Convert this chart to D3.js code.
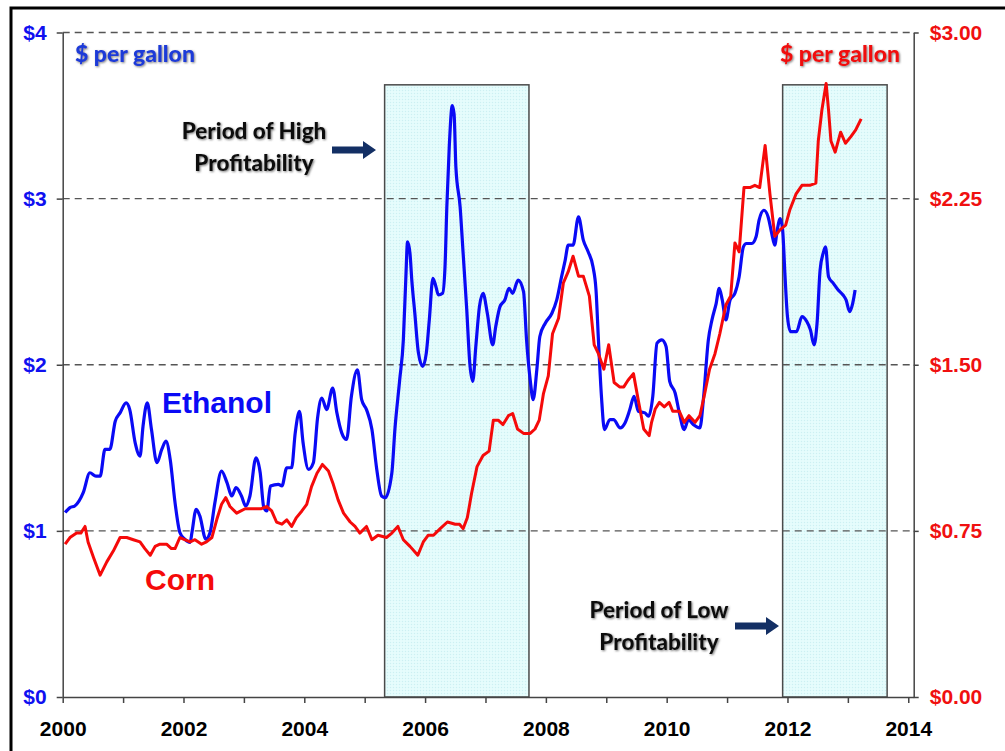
<!DOCTYPE html>
<meta charset="utf-8">
<style>
body { margin: 0; background: #fff; }
svg { display: block; }
.axis text { font-family: "Liberation Sans", Arial, sans-serif; font-weight: bold; }
.note { font-family: Lato, "Open Sans", sans-serif; font-weight: 900; }
</style>
<body>
<script src="https://cdn.jsdelivr.net/npm/d3@7"></script>
<script>

// ethanol price, $ per gallon (left axis) - [year, value]
var ethanol = [
  [2000.04,1.11],[2000.12,1.14],[2000.2,1.15],[2000.34,1.23],[2000.45,1.35],[2000.55,1.33],[2000.62,1.33],
  [2000.7,1.49],[2000.78,1.49],[2000.87,1.66],[2000.95,1.71],[2001.05,1.77],[2001.11,1.73],[2001.2,1.53],
  [2001.28,1.45],[2001.33,1.63],[2001.4,1.77],[2001.47,1.61],[2001.56,1.41],[2001.64,1.49],[2001.71,1.54],
  [2001.78,1.43],[2001.86,1.17],[2001.94,0.99],[2002.02,0.95],[2002.11,0.93],[2002.14,0.99],[2002.21,1.13],
  [2002.27,1.09],[2002.37,0.95],[2002.44,0.99],[2002.52,1.17],[2002.63,1.36],[2002.72,1.29],[2002.8,1.21],
  [2002.87,1.26],[2002.96,1.21],[2003.03,1.15],[2003.1,1.21],[2003.2,1.44],[2003.27,1.35],[2003.33,1.14],
  [2003.38,1.12],[2003.44,1.27],[2003.57,1.28],[2003.63,1.27],[2003.71,1.38],[2003.79,1.38],[2003.85,1.59],
  [2003.92,1.72],[2003.98,1.53],[2004.07,1.37],[2004.15,1.41],[2004.22,1.68],[2004.29,1.8],[2004.37,1.73],
  [2004.47,1.86],[2004.54,1.71],[2004.62,1.59],[2004.7,1.55],[2004.78,1.81],[2004.88,1.97],[2004.95,1.79],
  [2005.03,1.73],[2005.12,1.61],[2005.2,1.37],[2005.28,1.21],[2005.34,1.2],[2005.45,1.35],[2005.5,1.61],
  [2005.58,1.91],[2005.64,2.15],[2005.68,2.51],[2005.71,2.74],[2005.75,2.67],[2005.78,2.51],[2005.83,2.31],
  [2005.89,2.07],[2005.96,1.99],[2006.02,2.07],[2006.07,2.27],[2006.13,2.52],[2006.18,2.47],[2006.22,2.42],
  [2006.29,2.43],[2006.33,2.59],[2006.36,2.95],[2006.4,3.31],[2006.45,3.56],[2006.48,3.51],[2006.51,3.19],
  [2006.58,2.95],[2006.63,2.67],[2006.69,2.33],[2006.74,2.01],[2006.79,1.9],[2006.84,2.11],[2006.9,2.35],
  [2006.96,2.43],[2007.03,2.31],[2007.12,2.12],[2007.17,2.23],[2007.24,2.35],[2007.32,2.39],[2007.39,2.46],
  [2007.45,2.43],[2007.54,2.51],[2007.63,2.44],[2007.68,2.15],[2007.74,1.91],[2007.79,1.79],[2007.85,1.97],
  [2007.9,2.17],[2007.99,2.25],[2008.1,2.31],[2008.18,2.39],[2008.26,2.53],[2008.32,2.63],[2008.37,2.72],
  [2008.45,2.72],[2008.54,2.89],[2008.62,2.75],[2008.7,2.68],[2008.78,2.59],[2008.83,2.45],[2008.87,2.15],
  [2008.92,1.81],[2008.97,1.61],[2009.06,1.67],[2009.12,1.67],[2009.23,1.62],[2009.31,1.65],[2009.39,1.73],
  [2009.46,1.81],[2009.53,1.72],[2009.64,1.71],[2009.7,1.69],[2009.77,1.81],[2009.84,2.13],[2009.92,2.15],
  [2009.99,2.11],[2010.05,1.9],[2010.14,1.83],[2010.21,1.71],[2010.29,1.61],[2010.36,1.67],[2010.44,1.64],
  [2010.55,1.62],[2010.61,1.8],[2010.69,2.15],[2010.75,2.27],[2010.82,2.37],[2010.87,2.46],[2010.92,2.39],
  [2010.98,2.27],[2011.05,2.39],[2011.13,2.43],[2011.2,2.53],[2011.27,2.71],[2011.32,2.73],[2011.41,2.73],
  [2011.48,2.77],[2011.53,2.87],[2011.61,2.93],[2011.68,2.89],[2011.74,2.79],[2011.79,2.72],[2011.83,2.81],
  [2011.88,2.88],[2011.92,2.81],[2011.96,2.53],[2012.0,2.29],[2012.05,2.2],[2012.15,2.2],[2012.24,2.29],
  [2012.32,2.26],[2012.38,2.21],[2012.44,2.12],[2012.49,2.25],[2012.54,2.57],[2012.59,2.67],[2012.63,2.71],
  [2012.68,2.53],[2012.76,2.49],[2012.84,2.45],[2012.92,2.42],[2012.97,2.39],[2013.03,2.32],[2013.08,2.37],
  [2013.12,2.45]
];

// corn cost, $ per gallon of ethanol (right axis) - [year, value]
var corn = [
  [2000.04,0.69],[2000.12,0.72],[2000.23,0.74],[2000.3,0.74],[2000.37,0.77],[2000.42,0.7],[2000.51,0.63],
  [2000.62,0.55],[2000.73,0.61],[2000.84,0.66],[2000.95,0.72],[2001.06,0.72],[2001.17,0.71],[2001.28,0.7],
  [2001.36,0.67],[2001.45,0.64],[2001.53,0.68],[2001.61,0.69],[2001.72,0.69],[2001.8,0.67],[2001.86,0.67],
  [2001.94,0.72],[2002.02,0.71],[2002.11,0.7],[2002.19,0.71],[2002.3,0.69],[2002.38,0.7],[2002.47,0.72],
  [2002.55,0.8],[2002.63,0.87],[2002.7,0.9],[2002.77,0.86],[2002.88,0.83],[2003.02,0.85],[2003.16,0.85],
  [2003.29,0.85],[2003.38,0.86],[2003.46,0.84],[2003.54,0.79],[2003.63,0.78],[2003.71,0.8],[2003.79,0.77],
  [2003.87,0.81],[2003.96,0.84],[2004.04,0.87],[2004.12,0.95],[2004.21,1.01],[2004.3,1.05],[2004.4,1.02],
  [2004.48,0.96],[2004.56,0.89],[2004.65,0.83],[2004.76,0.79],[2004.84,0.77],[2004.92,0.74],[2005.03,0.77],
  [2005.12,0.71],[2005.22,0.73],[2005.36,0.72],[2005.45,0.74],[2005.55,0.77],[2005.64,0.71],[2005.75,0.68],
  [2005.88,0.64],[2005.97,0.7],[2006.05,0.73],[2006.14,0.73],[2006.25,0.76],[2006.37,0.79],[2006.5,0.78],
  [2006.57,0.78],[2006.63,0.76],[2006.7,0.81],[2006.77,0.92],[2006.86,1.04],[2006.96,1.09],[2007.06,1.11],
  [2007.13,1.25],[2007.21,1.25],[2007.29,1.23],[2007.38,1.27],[2007.45,1.28],[2007.53,1.21],[2007.63,1.19],
  [2007.74,1.19],[2007.82,1.21],[2007.89,1.25],[2007.96,1.37],[2008.04,1.45],[2008.11,1.64],[2008.21,1.71],
  [2008.29,1.87],[2008.37,1.92],[2008.45,1.99],[2008.54,1.9],[2008.62,1.9],[2008.72,1.81],[2008.8,1.59],
  [2008.87,1.55],[2008.96,1.48],[2009.04,1.59],[2009.13,1.42],[2009.22,1.4],[2009.29,1.4],[2009.36,1.43],
  [2009.45,1.46],[2009.53,1.34],[2009.62,1.21],[2009.71,1.18],[2009.75,1.24],[2009.81,1.3],[2009.88,1.33],
  [2009.96,1.31],[2010.04,1.33],[2010.1,1.29],[2010.21,1.29],[2010.29,1.24],[2010.37,1.27],[2010.47,1.24],
  [2010.55,1.27],[2010.63,1.37],[2010.71,1.48],[2010.8,1.55],[2010.88,1.64],[2010.98,1.77],[2011.06,1.81],
  [2011.13,2.05],[2011.2,2.01],[2011.28,2.3],[2011.38,2.3],[2011.46,2.31],[2011.54,2.3],[2011.63,2.49],
  [2011.71,2.27],[2011.79,2.08],[2011.88,2.11],[2011.97,2.13],[2012.04,2.2],[2012.14,2.27],[2012.24,2.31],
  [2012.37,2.31],[2012.47,2.32],[2012.51,2.51],[2012.57,2.65],[2012.64,2.77],[2012.68,2.65],[2012.72,2.51],
  [2012.79,2.46],[2012.88,2.55],[2012.96,2.5],[2013.05,2.53],[2013.13,2.56],[2013.22,2.61]
];

// shaded periods [start, end] and their height on the left scale
var periods = [[2005.33, 2007.72], [2011.92, 2013.65]];
var periodTop = 3.685;

var yearTicks = d3.range(2000, 2015);
var leftTicks = [0, 1, 2, 3, 4];
var rightTicks = [0, 0.75, 1.5, 2.25, 3];

var W = 1005, H = 751;
var svg = d3.select("body").append("svg")
    .attr("width", W)
    .attr("height", H);

var x = d3.scaleLinear().domain([2000, 2014.09]).range([62.7, 913.7]);
var yL = d3.scaleLinear().domain([0, 4]).range([697, 32.5]);
var yR = d3.scaleLinear().domain([0, 3]).range([697, 32.5]);

var defs = svg.append("defs");
var pat = defs.append("pattern")
    .attr("id", "dots")
    .attr("width", 3).attr("height", 3)
    .attr("patternUnits", "userSpaceOnUse");
pat.append("rect").attr("width", 3).attr("height", 3).attr("fill", "#e2fbfb");
pat.append("rect").attr("width", 1).attr("height", 1).attr("fill", "#cdeff2");
pat.append("rect").attr("x", 1.5).attr("y", 1.5).attr("width", 1).attr("height", 1).attr("fill", "#f3ffff");

var shadow = defs.append("filter").attr("id", "shadow")
    .attr("x", "-10%").attr("y", "-20%").attr("width", "120%").attr("height", "140%");
shadow.append("feDropShadow")
    .attr("dx", 1).attr("dy", 1).attr("stdDeviation", 1)
    .attr("flood-color", "#666").attr("flood-opacity", 0.85);

// outer frame
svg.append("rect")
    .attr("x", 11).attr("y", 8)
    .attr("width", 1200).attr("height", 900)
    .attr("fill", "none").attr("stroke", "#000").attr("stroke-width", 3);

// shaded periods
svg.selectAll("rect.period")
    .data(periods)
  .enter().append("rect")
    .attr("class", "period")
    .attr("x", function(d) { return x(d[0]); })
    .attr("y", yL(periodTop))
    .attr("width", function(d) { return x(d[1]) - x(d[0]); })
    .attr("height", yL(0) - yL(periodTop))
    .attr("fill", "url(#dots)")
    .attr("stroke", "#4a4a4a")
    .attr("stroke-width", 1.5);

// dashed grid
svg.selectAll("line.grid")
    .data(leftTicks.slice(1))
  .enter().append("line")
    .attr("class", "grid")
    .attr("x1", x.range()[0]).attr("x2", x.range()[1])
    .attr("y1", yL).attr("y2", yL)
    .attr("stroke", "#555")
    .attr("stroke-width", 1.3)
    .attr("stroke-dasharray", "7,5");

// axes
var gx = svg.append("g").attr("class", "axis")
    .attr("transform", "translate(0," + yL(0) + ")")
    .call(d3.axisBottom(x).tickValues(yearTicks)
      .tickFormat(function(d) { return d % 2 === 0 ? d : ""; })
      .tickSizeOuter(0).tickSizeInner(6).tickPadding(18));
gx.selectAll("text").attr("font-size", 21).attr("fill", "#000");

var gl = svg.append("g").attr("class", "axis")
    .attr("transform", "translate(" + x.range()[0] + ",0)")
    .call(d3.axisLeft(yL).tickValues(leftTicks)
      .tickFormat(function(d) { return "$" + d; })
      .tickSizeOuter(0).tickSizeInner(6).tickPadding(10));
gl.selectAll("text").attr("font-size", 21).attr("fill", "#1010f0");

var gr = svg.append("g").attr("class", "axis")
    .attr("transform", "translate(" + x.range()[1] + ",0)")
    .call(d3.axisRight(yR).tickValues(rightTicks)
      .tickFormat(function(d) { return "$" + d.toFixed(2); })
      .tickSizeOuter(0).tickSizeInner(5).tickPadding(11));
gr.selectAll("text").attr("font-size", 21).attr("fill", "#f01010");

svg.selectAll(".axis path, .axis line")
    .attr("stroke", "#444").attr("stroke-width", 1.5);

// series
var lineL = d3.line()
    .x(function(d) { return x(d[0]); })
    .y(function(d) { return yL(d[1]); })
    .curve(d3.curveMonotoneX);
var lineR = d3.line()
    .x(function(d) { return x(d[0]); })
    .y(function(d) { return yR(d[1]); });

svg.append("path").datum(ethanol)
    .attr("d", lineL)
    .attr("fill", "none").attr("stroke", "#0a0af5")
    .attr("stroke-width", 3.2).attr("stroke-linejoin", "round");

svg.append("path").datum(corn)
    .attr("d", lineR)
    .attr("fill", "none").attr("stroke", "#f50a0a")
    .attr("stroke-width", 3).attr("stroke-linejoin", "round");

// labels
var labelFont = "'Liberation Sans', Arial, sans-serif";
svg.append("text").text("Ethanol")
    .attr("x", 162).attr("y", 413)
    .attr("font-family", labelFont).attr("font-weight", "bold")
    .attr("font-size", 30).attr("fill", "#0a0af5");
svg.append("text").text("Corn")
    .attr("x", 145).attr("y", 590)
    .attr("font-family", labelFont).attr("font-weight", "bold")
    .attr("font-size", 30).attr("fill", "#f50a0a");

svg.append("text").attr("class", "note").text("$ per gallon")
    .attr("x", 75).attr("y", 62)
    .attr("font-size", 23)
    .attr("fill", "#1a3ad8").attr("filter", "url(#shadow)");
svg.append("text").attr("class", "note").text("$ per gallon")
    .attr("x", 900).attr("y", 62).attr("text-anchor", "end")
    .attr("font-size", 23)
    .attr("fill", "#f01010").attr("filter", "url(#shadow)");

function note(cx, y, lines) {
  var t = svg.append("text").attr("class", "note")
      .attr("text-anchor", "middle")
      .attr("font-size", 22.5)
      .attr("fill", "#111").attr("filter", "url(#shadow)");
  lines.forEach(function(s, i) {
    t.append("tspan").attr("x", cx).attr("y", y + i * 32).text(s);
  });
}
note(254, 139, ["Period of High", "Profitability"]);
note(659, 618, ["Period of Low", "Profitability"]);

function arrow(x1, x2, y) {
  svg.append("path")
      .attr("d", "M" + x1 + "," + (y - 3.5) + "H" + (x2 - 13) + "V" + (y - 9) +
                 "L" + x2 + "," + y + "L" + (x2 - 13) + "," + (y + 9) +
                 "V" + (y + 3.5) + "H" + x1 + "Z")
      .attr("fill", "#132f64");
}
arrow(332, 376, 150);
arrow(735, 779, 626);

</script>
